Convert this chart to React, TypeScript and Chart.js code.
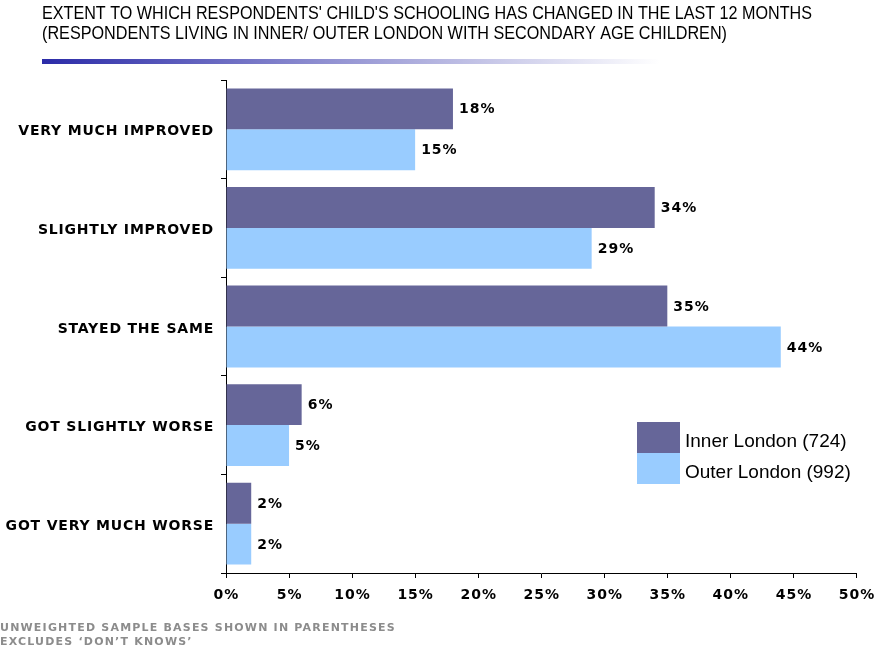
import React, { useEffect, useRef } from "react";
import { Chart, registerables } from "chart.js";

Chart.register(...registerables);

const categories = [
  "VERY MUCH IMPROVED",
  "SLIGHTLY IMPROVED",
  "STAYED THE SAME",
  "GOT SLIGHTLY WORSE",
  "GOT VERY MUCH WORSE",
];
const innerLondon = [18, 34, 35, 6, 2];
const outerLondon = [15, 29, 44, 5, 2];
const xTickValues = [0, 5, 10, 15, 20, 25, 30, 35, 40, 45, 50];
const seriesNames = ["Inner London (724)", "Outer London (992)"];
const seriesColors = ["#666699", "#99CCFF"];
const titleLines = [
  "EXTENT TO WHICH RESPONDENTS' CHILD'S SCHOOLING HAS CHANGED IN THE LAST 12 MONTHS",
  "(RESPONDENTS LIVING IN INNER/ OUTER LONDON WITH SECONDARY AGE CHILDREN)",
];
const footnotes = [
  "UNWEIGHTED SAMPLE BASES SHOWN IN PARENTHESES",
  "EXCLUDES \u2018DON\u2019T KNOWS\u2019",
];

const BOLD = "'DejaVu Sans', Verdana, sans-serif";

const decorPlugin = {
  id: "decor",
  afterDraw(chart: any) {
    const ctx = chart.ctx as any;
    ctx.save();
    ctx.textBaseline = "middle";
    ctx.textAlign = "left";
    ctx.letterSpacing = "0px";

    // Title (condensed)
    ctx.fillStyle = "#000";
    ctx.font = "19px 'Liberation Sans', Arial, sans-serif";
    const targets = [770, 685];
    const ys = [14, 34];
    titleLines.forEach((t, i) => {
      const w = ctx.measureText(t).width;
      ctx.save();
      ctx.translate(42, ys[i]);
      ctx.scale(targets[i] / w, 1);
      ctx.fillText(t, 0, 0);
      ctx.restore();
    });
    // gradient line
    const g = ctx.createLinearGradient(42, 0, 660, 0);
    g.addColorStop(0, "#2B2BA8");
    g.addColorStop(0.45, "#8E8ED0");
    g.addColorStop(1, "rgba(255,255,255,1)");
    ctx.fillStyle = g;
    ctx.fillRect(42, 59, 618, 5);

    // y category labels
    const ys2 = chart.scales.y;
    ctx.fillStyle = "#000";
    ctx.font = "bold 14px " + BOLD;
    ctx.letterSpacing = "0.8px";
    ctx.textAlign = "right";
    categories.forEach((c, i) => {
      const y = ys2.getPixelForValue(i);
      ctx.fillText(c, 214, y + 2.5);
    });

    // x tick labels
    const xs = chart.scales.x;
    ctx.textAlign = "center";
    ctx.letterSpacing = "1px";
    xTickValues.forEach((v) => {
      ctx.fillText(v + "%", xs.getPixelForValue(v) + 0.5, 595);
    });

    // data labels
    ctx.textAlign = "left";
    ctx.letterSpacing = "1px";
    chart.data.datasets.forEach((ds: any, di: number) => {
      const meta = chart.getDatasetMeta(di);
      meta.data.forEach((bar: any, i: number) => {
        ctx.fillText(ds.data[i] + "%", bar.x + 6, bar.y + 1);
      });
    });

    // legend
    ctx.letterSpacing = "0px";
    const lx = 637;
    const ly = [422, 453];
    ctx.font = "19px 'Liberation Sans', Arial, sans-serif";
    seriesNames.forEach((n, i) => {
      ctx.fillStyle = seriesColors[i];
      ctx.fillRect(lx, ly[i], 43, 31);
      ctx.fillStyle = "#000";
      ctx.fillText(n, lx + 48, ly[i] + 20);
    });

    // footnotes
    ctx.fillStyle = "#8C8C8C";
    ctx.font = "bold 11px " + BOLD;
    ctx.letterSpacing = "1.2px";
    footnotes.forEach((f, i) => {
      ctx.fillText(f, 0, 628 + i * 14);
    });
    ctx.restore();
  },
};

export default function App() {
  const ref = useRef<HTMLCanvasElement>(null);
  useEffect(() => {
    const chart = new Chart(ref.current!, {
      type: "bar",
      data: {
        labels: categories,
        datasets: [
          {
            label: seriesNames[0],
            data: innerLondon,
            backgroundColor: seriesColors[0],
            categoryPercentage: 0.83,
            barPercentage: 1,
          },
          {
            label: seriesNames[1],
            data: outerLondon,
            backgroundColor: seriesColors[1],
            categoryPercentage: 0.83,
            barPercentage: 1,
          },
        ],
      },
      options: {
        indexAxis: "y",
        responsive: false,
        animation: false,
        layout: { padding: { top: 80, right: 18, left: 0, bottom: 0 } },
        plugins: {
          legend: { display: false },
          tooltip: { enabled: false },
        },
        scales: {
          x: {
            min: 0,
            max: 50,
            ticks: {
              stepSize: 5,
              callback: (v: any) => v + "%",
              color: "rgba(0,0,0,0)",
              font: { family: BOLD, weight: "bold", size: 13 },
              padding: 6,
            },
            grid: { display: true, drawOnChartArea: false, color: "#000", tickLength: 5 },
            border: { color: "#000", width: 1 },
            afterFit: (s: any) => {
              s.height = 74;
            },
          },
          y: {
            ticks: {
              color: "rgba(0,0,0,0)",
              font: { family: BOLD, weight: "bold", size: 12 },
              padding: 8,
            },
            grid: { display: true, drawOnChartArea: false, color: "#000", tickLength: 5, offset: true },
            border: { color: "#000", width: 1 },
            afterFit: (s: any) => {
              s.width = 226;
            },
          },
        },
      },
      plugins: [decorPlugin],
    } as any);
    return () => chart.destroy();
  }, []);
  return (
    <div style={{ position: "absolute", left: 0, top: 0, width: 878, height: 647, background: "#fff" }}>
      <canvas ref={ref} width={878} height={647} style={{ display: "block" }} />
    </div>
  );
}
